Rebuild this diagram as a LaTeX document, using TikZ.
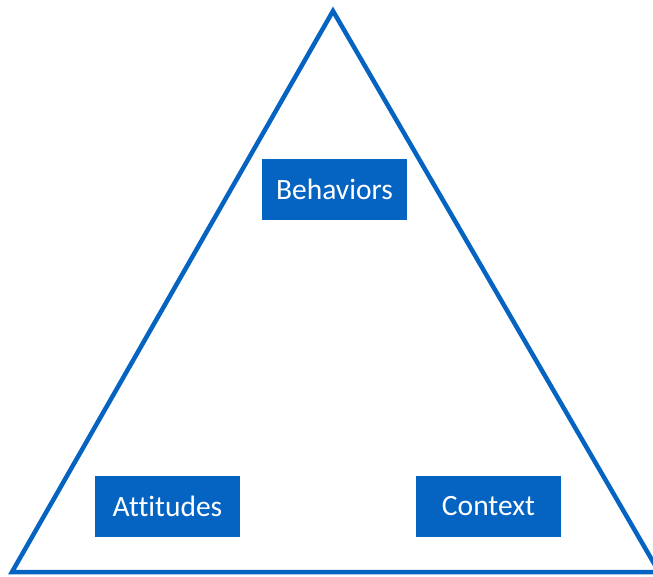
\documentclass[tikz,border=0pt]{standalone}
\usepackage{fontspec}
\setmainfont[Ligatures=NoCommon]{Carlito}
\definecolor{boxblue}{RGB}{5,99,193}
\begin{document}
\begin{tikzpicture}[x=1pt,y=-1pt,
  box/.style={fill=boxblue,text=white,minimum width=145pt,minimum height=61pt,inner sep=0pt,font=\fontsize{29.5}{34}\selectfont},
  tri/.style={draw=boxblue,line width=4.5pt,line join=miter}]
\useasboundingbox (0,0) rectangle (653,577);
\begin{scope}
\clip (0,0) rectangle (653,577);
\coordinate (top) at (333,11);
\coordinate (bl) at (12,572);
\coordinate (br) at (659,572);
\draw[tri] (top) -- (bl) -- (br) -- cycle;
\end{scope}
\node[box] (beh) at (334.5,189.5) {Behaviors};
\node[box] (att) at (167.5,506.5) {Attitudes};
\node[box] (ctx) at (488.5,506.5) {Context};
\end{tikzpicture}
\end{document}
